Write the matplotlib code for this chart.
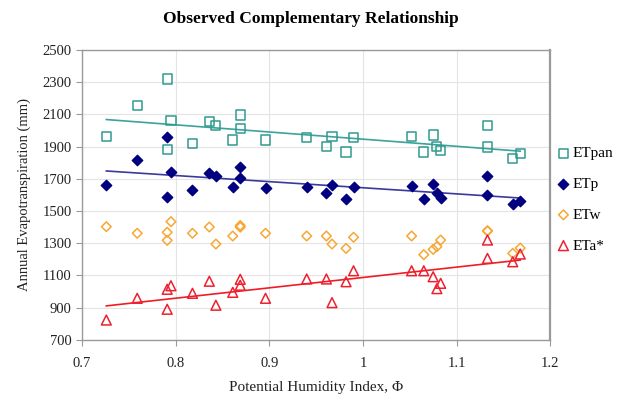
import numpy as np
import matplotlib
matplotlib.use("Agg")
import matplotlib.pyplot as plt

plt.rcParams['font.family'] = ['Liberation Serif', 'DejaVu Serif']

# potential humidity index of each station
phi = [0.726, 0.759, 0.791, 0.791, 0.795, 0.818, 0.836, 0.843, 0.861, 0.869,
       0.869, 0.896, 0.940, 0.961, 0.967, 0.982, 0.990, 1.052, 1.065, 1.075,
       1.079, 1.083, 1.133, 1.133, 1.160, 1.168]

et_pan = [1964, 2154, 2320, 1883, 2061, 1922, 2057, 2032, 1941, 2096,
          2014, 1941, 1958, 1900, 1962, 1867, 1958, 1964, 1867, 1972,
          1900, 1875, 2030, 1898, 1825, 1856]
et_p = [1660, 1817, 1962, 1589, 1740, 1628, 1734, 1716, 1647, 1775,
        1707, 1641, 1651, 1610, 1662, 1575, 1651, 1657, 1575, 1668,
        1610, 1583, 1716, 1600, 1542, 1564]
et_w = [1403, 1362, 1368, 1318, 1434, 1362, 1401, 1295, 1345, 1400,
        1410, 1362, 1345, 1345, 1295, 1268, 1337, 1345, 1229, 1262,
        1279, 1320, 1378, 1375, 1237, 1270]
et_a = [823, 958, 1014, 890, 1036, 989, 1064, 915, 995, 1076,
        1039, 958, 1078, 1078, 931, 1061, 1129, 1129, 1129, 1092,
        1018, 1051, 1320, 1206, 1185, 1233]

x_ticks = [0.7, 0.8, 0.9, 1.0, 1.1, 1.2]
x_labels = ["0.7", "0.8", "0.9", "1", "1.1", "1.2"]
y_ticks = [700, 900, 1100, 1300, 1500, 1700, 1900, 2100, 2300, 2500]

fig = plt.figure(figsize=(6.21, 4.07), dpi=100)
ax = fig.add_axes([0.132, 0.165, 0.754, 0.712])

x = np.array(phi)
xs = np.array([x.min(), x.max()])

def trend(y, color):
    k, b = np.polyfit(x, np.array(y), 1)
    ax.plot(xs, k * xs + b, color=color, lw=1.2, zorder=2)

trend(et_pan, "#3aa39a")
trend(et_p, "#3a3a9e")
trend(et_a, "#f01c24")

ax.scatter(phi, et_pan, marker="s", s=44, facecolors="none",
           edgecolors="#2f9a8f", linewidths=1.1, label="ETpan", zorder=3)
ax.scatter(phi, et_p, marker="D", s=28, color="#000080",
           label="ETp", zorder=3)
ax.scatter(phi, et_w, marker="D", s=24, facecolors="none",
           edgecolors="#f7a733", linewidths=1.1, label="ETw", zorder=3)
ax.scatter(phi, et_a, marker="^", s=50, facecolors="none",
           edgecolors="#ee2030", linewidths=1.1, label="ETa*", zorder=3)

ax.set_xlim(0.7, 1.2)
ax.set_ylim(700, 2500)
ax.set_xticks(x_ticks)
ax.set_xticklabels(x_labels)
ax.set_yticks(y_ticks)
ax.grid(True, color="#e4e4e4", lw=0.8, zorder=0)
ax.set_axisbelow(True)
for s in ax.spines.values():
    s.set_color("#9a9a9a")
    s.set_linewidth(1.0)
ax.spines["right"].set_linewidth(1.6)
ax.tick_params(axis="both", colors="#9a9a9a", length=4, labelsize=10.5,
               labelcolor="#222222", direction="out")
ax.tick_params(axis="x", pad=8)

ax.set_xlabel("Potential Humidity Index, \u03a6", fontsize=11, color="#222222",
              labelpad=8)
ax.set_ylabel("Annual Evapotranspiration (mm)", fontsize=10.5,
              color="#222222", labelpad=8)
fig.text(0.5, 0.953, "Observed Complementary Relationship", ha="center",
         va="center", fontsize=12.5, fontweight="bold")

ax.legend(loc="upper left", bbox_to_anchor=(0.895, 0.64),
          bbox_transform=fig.transFigure, frameon=False, fontsize=11,
          handletextpad=0.1, handlelength=1.0, labelspacing=1.12,
          borderaxespad=0, borderpad=0)

fig.savefig("out.png", dpi=100)
